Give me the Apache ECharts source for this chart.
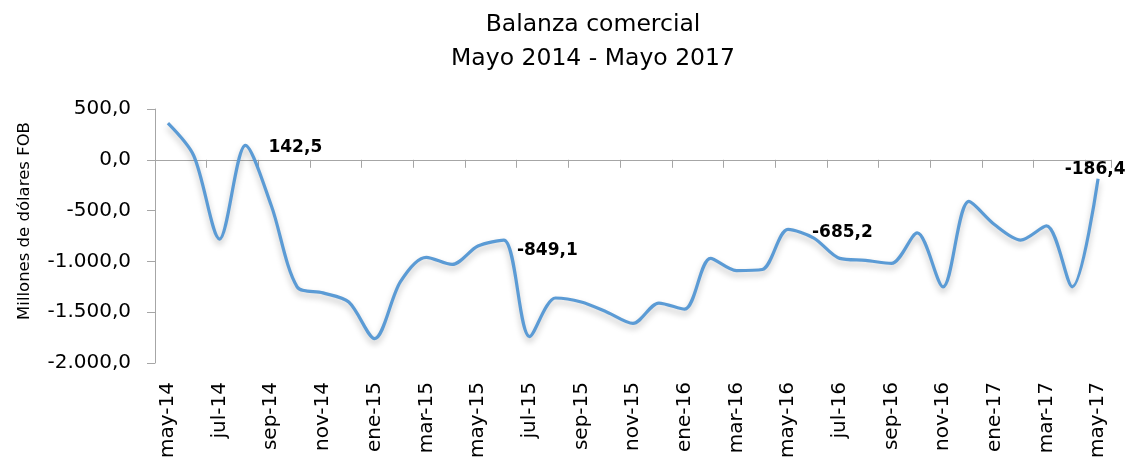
<!DOCTYPE html>
<html>
<head>
<meta charset="utf-8">
<title>Balanza comercial</title>
<script src="https://cdn.jsdelivr.net/npm/echarts@6.0.0/dist/echarts.min.js"></script>
<style>
  html, body { margin: 0; padding: 0; background: #fff; }
  #chart { width: 1129px; height: 462px; }
</style>
</head>
<body>
<div id="chart"></div>
<script>
// meses (may-14 .. may-17)
const months = [
  'may-14', 'jun-14', 'jul-14', 'ago-14', 'sep-14', 'oct-14', 'nov-14', 'dic-14',
  'ene-15', 'feb-15', 'mar-15', 'abr-15', 'may-15', 'jun-15', 'jul-15', 'ago-15',
  'sep-15', 'oct-15', 'nov-15', 'dic-15', 'ene-16', 'feb-16', 'mar-16', 'abr-16',
  'may-16', 'jun-16', 'jul-16', 'ago-16', 'sep-16', 'oct-16', 'nov-16', 'dic-16',
  'ene-17', 'feb-17', 'mar-17', 'abr-17', 'may-17'
];

// saldo mensual, millones de dolares FOB
const balance = [
  360, 40, -780, 142.5, -450, -1250, -1310, -1400,
  -1760, -1200, -960, -1030, -849.1, -790, -1740, -1360,
  -1400, -1500, -1610, -1410, -1470, -970, -1090, -1080,
  -685.2, -770, -970, -990, -1020, -720, -1250, -410,
  -640, -790, -650, -1250, -186.4
];

// puntos con etiqueta de valor
const labelledMonths = ['ago-14', 'may-15', 'may-16', 'may-17'];

const yTicks = { min: -2000, max: 500, step: 500 };

const font = 'DejaVu Sans';

// 1234.5 -> "1.234,5"
function fmt(v) {
  const parts = Math.abs(v).toFixed(1).split('.');
  const intPart = parts[0].replace(/\B(?=(\d{3})+(?!\d))/g, '.');
  return (v < 0 ? '-' : '') + intPart + ',' + parts[1];
}

const labelPlacement = {
  'ago-14': { position: 'right', distance: 22, offset: [1, 2] },
  'may-15': { position: 'right', distance: 36, offset: [3, 5] },
  'may-16': { position: 'right', distance: 22, offset: [2, 3] },
  'may-17': { position: 'top', distance: 1, offset: [-3, 0] }
};

const seriesData = balance.map((v, i) => {
  const m = months[i];
  if (labelledMonths.indexOf(m) < 0) return v;
  return {
    value: v,
    label: Object.assign({
      show: true,
      formatter: p => fmt(p.value),
      color: '#000',
      fontFamily: font,
      fontWeight: 'bold',
      fontSize: 17
    }, labelPlacement[m])
  };
});

const chart = echarts.init(document.getElementById('chart'), null, { renderer: 'canvas' });

const option = {
  animation: false,
  backgroundColor: '#fff',
  title: [
    {
      text: 'Balanza comercial',
      left: 588, top: 8, textAlign: 'center',
      textStyle: { fontFamily: font, fontSize: 23.5, fontWeight: 'normal', color: '#000' }
    },
    {
      text: 'Mayo 2014 - Mayo 2017',
      left: 588, top: 42, textAlign: 'center',
      textStyle: { fontFamily: font, fontSize: 23.5, fontWeight: 'normal', color: '#000' }
    }
  ],
  grid: { left: 155, right: 18, top: 109, bottom: 99, outerBoundsMode: 'none' },
  xAxis: [
    {
      // etiquetas abajo
      type: 'category',
      data: months,
      position: 'bottom',
      boundaryGap: true,
      axisLine: { show: false, onZero: false },
      axisTick: { show: false },
      axisLabel: {
        interval: 1,
        rotate: 90,
        margin: 19,
        fontFamily: font,
        fontSize: 20,
        color: '#000'
      }
    },
    {
      // linea del cero con marcas
      type: 'category',
      data: months,
      position: 'top',
      boundaryGap: true,
      axisLine: { show: true, onZero: true, lineStyle: { color: '#a6a6a6', width: 1 } },
      axisTick: { show: true, inside: true, interval: 1, length: 8, lineStyle: { color: '#a6a6a6' } },
      axisLabel: { show: false, interval: 1 }
    }
  ],
  yAxis: {
    type: 'value',
    min: yTicks.min,
    max: yTicks.max,
    interval: yTicks.step,
    name: 'Millones de dólares FOB',
    nameLocation: 'middle',
    nameRotate: 90,
    nameGap: 122,
    nameTextStyle: { fontFamily: font, fontSize: 16.5, color: '#000', padding: [0, 0, 0, 30] },
    axisLine: { show: true, lineStyle: { color: '#a6a6a6' } },
    axisTick: { show: true, length: 8, lineStyle: { color: '#a6a6a6' } },
    splitLine: { show: false },
    axisLabel: {
      margin: 24,
      fontFamily: font,
      fontSize: 20,
      color: '#000',
      formatter: v => fmt(v)
    }
  },
  series: [
    {
      name: 'Balanza comercial',
      type: 'line',
      xAxisIndex: 0,
      data: seriesData,
      smooth: 0.3,
      // simbolos invisibles, solo para que se dibujen las etiquetas
      showSymbol: true,
      symbol: 'circle',
      symbolSize: 0,
      lineStyle: {
        color: '#5b9bd5',
        width: 3.2,
        shadowColor: 'rgba(0,0,0,0.25)',
        shadowBlur: 6,
        shadowOffsetY: 4
      },
      itemStyle: { color: '#5b9bd5' }
    }
  ]
};

chart.setOption(option);
</script>
</body>
</html>
